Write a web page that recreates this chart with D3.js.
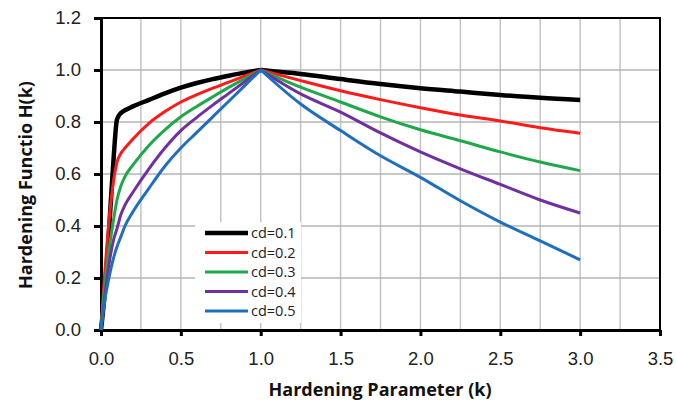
<!DOCTYPE html>
<html lang="en">
<head>
<meta charset="UTF-8">
<title>Hardening Function</title>
<script src="https://d3js.org/d3.v7.min.js"></script>
<style>
    body { margin: 0; background: #fff; }
    svg { display: block; font-family: 'Open Sans', sans-serif; }
    .tick text { font-size: 18.5px; fill: #222; }
    .axis-title { font-size: 18px; font-weight: bold; fill: #111; }
    .legend text { font-size: 14.5px; fill: #222; }
</style>
</head>
<body>
<svg width="676" height="400"></svg>
<script>
// values
const kValues = [0, 0.02, 0.04, 0.06, 0.08, 0.1, 0.125, 0.15, 0.2, 0.3, 0.4, 0.5, 0.6, 0.7, 0.8, 0.9, 1.0,
                 1.25, 1.5, 1.75, 2.0, 2.25, 2.5, 2.75, 3.0];
const cd01 = [0, 0.12, 0.28, 0.48, 0.67, 0.81, 0.835, 0.845, 0.86, 0.885, 0.91, 0.932, 0.95, 0.965, 0.978, 0.99, 1.0,
              0.985, 0.965, 0.946, 0.93, 0.917, 0.904, 0.893, 0.885];
const cd02 = [0, 0.19, 0.35, 0.48, 0.58, 0.645, 0.68, 0.70, 0.735, 0.795, 0.84, 0.877, 0.905, 0.93, 0.953, 0.977, 1.0,
              0.959, 0.92, 0.886, 0.855, 0.827, 0.804, 0.778, 0.757];
const cd03 = [0, 0.15, 0.26, 0.35, 0.43, 0.50, 0.555, 0.59, 0.635, 0.71, 0.77, 0.82, 0.86, 0.897, 0.933, 0.967, 1.0,
              0.934, 0.877, 0.82, 0.77, 0.728, 0.685, 0.646, 0.613];
const cd04 = [0, 0.11, 0.21, 0.29, 0.35, 0.39, 0.445, 0.48, 0.53, 0.62, 0.70, 0.767, 0.818, 0.865, 0.91, 0.955, 1.0,
              0.908, 0.838, 0.758, 0.685, 0.62, 0.56, 0.50, 0.45];
const cd05 = [0, 0.10, 0.17, 0.23, 0.28, 0.32, 0.36, 0.40, 0.455, 0.545, 0.63, 0.70, 0.76, 0.82, 0.88, 0.94, 1.0,
              0.869, 0.767, 0.67, 0.587, 0.497, 0.415, 0.343, 0.27];

const seriesNames = ["cd=0.1", "cd=0.2", "cd=0.3", "cd=0.4", "cd=0.5"];
const seriesValues = [cd01, cd02, cd03, cd04, cd05];
const seriesColors = ["#000000", "#ff1a1a", "#1fa84a", "#7030a0", "#1f6fc0"];
const seriesWidths = [4.5, 3, 3, 3, 3];

const xTicks = [0, 0.5, 1.0, 1.5, 2.0, 2.5, 3.0, 3.5];
const yTicks = [0, 0.2, 0.4, 0.6, 0.8, 1.0, 1.2];
const xGrid = d3.range(0.25, 3.5, 0.25);
const yGrid = [0.2, 0.4, 0.6, 0.8, 1.0];

const svg = d3.select("svg");
const x = d3.scaleLinear().domain([0, 3.5]).range([101, 660]);
const y = d3.scaleLinear().domain([0, 1.2]).range([330, 18]);

// grid
svg.append("g").selectAll("line").data(xGrid).join("line")
    .attr("x1", d => x(d)).attr("x2", d => x(d))
    .attr("y1", y(0)).attr("y2", y(1.2))
    .attr("stroke", "#c4c4c4").attr("stroke-width", 1.5);
svg.append("g").selectAll("line").data(yGrid).join("line")
    .attr("x1", x(0)).attr("x2", x(3.5))
    .attr("y1", d => y(d)).attr("y2", d => y(d))
    .attr("stroke", "#b4b4b4").attr("stroke-width", 1.5);

// frame
svg.append("rect")
    .attr("x", x(0)).attr("y", y(1.2))
    .attr("width", x(3.5) - x(0)).attr("height", y(0) - y(1.2))
    .attr("fill", "none").attr("stroke", "#000").attr("stroke-width", 2);

// axes
const xAxis = svg.append("g").attr("transform", `translate(0,${y(0)})`)
    .call(d3.axisBottom(x).tickValues(xTicks).tickFormat(d3.format(".1f"))
        .tickSize(6).tickPadding(16).tickSizeOuter(0));
const yAxis = svg.append("g").attr("transform", `translate(${x(0)},0)`)
    .call(d3.axisLeft(y).tickValues(yTicks).tickFormat(d3.format(".1f"))
        .tickSize(7).tickPadding(13).tickSizeOuter(0));
[xAxis, yAxis].forEach(g => {
    g.select(".domain").attr("stroke", "#000").attr("stroke-width", 3);
    g.selectAll(".tick line").attr("stroke", "#000").attr("stroke-width", 3);
});

// curves, split at the peak so it stays sharp
const peak = kValues.indexOf(1.0);
const line = d3.line().x(d => x(d[0])).y(d => y(d[1])).curve(d3.curveMonotoneX);
const curves = svg.append("g").attr("fill", "none");
seriesValues.forEach((vals, i) => {
    const pts = kValues.map((k, j) => [k, vals[j]]);
    [pts.slice(0, peak + 1), pts.slice(peak)].forEach(part => {
        curves.append("path")
            .attr("d", line(part))
            .attr("stroke", seriesColors[i])
            .attr("stroke-width", seriesWidths[i])
            .attr("stroke-linejoin", "round");
    });
});

// legend
const legend = svg.append("g").attr("class", "legend");
legend.append("rect")
    .attr("x", 195).attr("y", 222).attr("width", 106).attr("height", 101)
    .attr("fill", "#fff");
seriesNames.forEach((name, i) => {
    const ly = 233 + i * 19.5;
    legend.append("line")
        .attr("x1", 205).attr("x2", 248).attr("y1", ly).attr("y2", ly)
        .attr("stroke", seriesColors[i]).attr("stroke-width", seriesWidths[i]);
    legend.append("text")
        .attr("x", 251).attr("y", ly).attr("dy", "0.35em")
        .text(name);
});

// titles
svg.append("text").attr("class", "axis-title")
    .attr("x", 380).attr("y", 396).attr("text-anchor", "middle")
    .text("Hardening Parameter (k)");
svg.append("text").attr("class", "axis-title")
    .attr("transform", "translate(32,185) rotate(-90)")
    .attr("text-anchor", "middle")
    .text("Hardening Functio H(k)");
</script>
</body>
</html>
